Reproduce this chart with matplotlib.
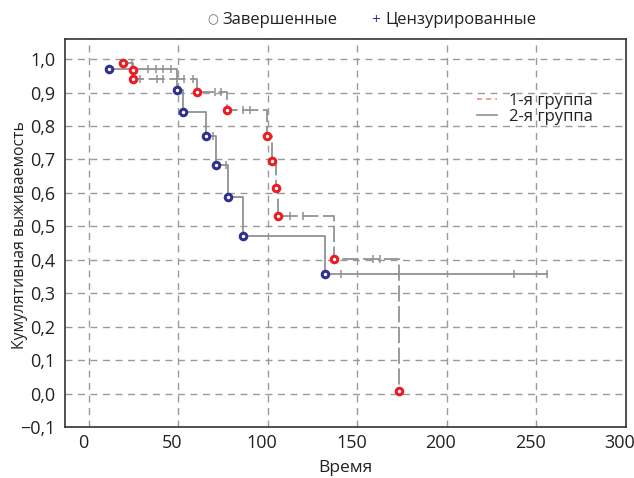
import matplotlib
matplotlib.use("Agg")
import matplotlib.pyplot as plt
from matplotlib.lines import Line2D
import matplotlib.transforms as mtransforms
import numpy as np

# ---- data ----
g1_event_t = [18.9, 24.9, 24.9, 60.3, 77.0, 99.7, 102.2, 104.6, 105.5, 137.0, 173.0]
g1_event_s = [0.989, 0.967, 0.939, 0.902, 0.847, 0.769, 0.695, 0.616, 0.531, 0.401, 0.008]
g1_cens_t = [24.0, 28.6, 37.9, 41.6, 53.4, 58.2, 70.5, 73.7, 86.3, 90.1, 112.4, 119.5, 158.6, 162.7]

g2_event_t = [11.5, 49.4, 52.5, 65.5, 71.0, 77.8, 86.0, 131.7]
g2_event_s = [0.969, 0.909, 0.841, 0.769, 0.684, 0.587, 0.471, 0.356]
g2_cens_t = [33.2, 37.4, 41.6, 45.8, 69.4, 76.6, 140.7, 237.2, 255.8]

x_ticks = [0, 50, 100, 150, 200, 250, 300]
y_ticks = [1.0, 0.9, 0.8, 0.7, 0.6, 0.5, 0.4, 0.3, 0.2, 0.1, 0.0, -0.1]

FONT = ["Open Sans", "DejaVu Sans"]
plt.rcParams["font.family"] = FONT

RED = "#ec1c24"
BLUE = "#2e3192"
LINE = "#929292"
GRID = "#9a9a9a"
TXT = "#222222"


def step_xy(times, surv, cens):
    xs = [times[0]]
    ys = [surv[0]]
    for i in range(1, len(times)):
        xs += [times[i], times[i]]
        ys += [surv[i - 1], surv[i]]
    last_c = max(cens) if cens else times[-1]
    if last_c > times[-1]:
        xs.append(last_c)
        ys.append(surv[-1])
    return xs, ys


def surv_at(times, surv, t):
    s = surv[0]
    for tt, ss in zip(times, surv):
        if tt <= t:
            s = ss
    return s


fig = plt.figure(figsize=(6.34, 4.78), dpi=100)
ax = fig.add_axes([65 / 634, 1 - 427 / 478, (626 - 65) / 634, (427 - 39) / 478])

ax.set_xlim(-13.3, 300)
ax.set_ylim(-0.1, 1.06)

ax.grid(True, color=GRID, linestyle=(0, (5, 4)), linewidth=1.0)
ax.set_axisbelow(True)

# group 1 (dashed)
x1, y1 = step_xy(g1_event_t, g1_event_s, g1_cens_t)
ax.plot(x1, y1, color=LINE, lw=1.3, linestyle=(0, (9, 2.5)), zorder=3)
c1_s = [surv_at(g1_event_t, g1_event_s, t) for t in g1_cens_t]
ax.plot(g1_cens_t, c1_s, linestyle="none", marker="|", ms=6, mew=1.1, color=LINE, zorder=3)

# group 2 (solid)
x2, y2 = step_xy(g2_event_t, g2_event_s, g2_cens_t)
ax.plot(x2, y2, color=LINE, lw=1.3, linestyle="-", zorder=3)
c2_s = [surv_at(g2_event_t, g2_event_s, t) for t in g2_cens_t]
ax.plot(g2_cens_t, c2_s, linestyle="none", marker="|", ms=6, mew=1.1, color=LINE, zorder=3)

# events
ax.plot(g1_event_t, g1_event_s, linestyle="none", marker="o", ms=4.7, mew=2.2,
        mec=RED, mfc="white", zorder=5)
ax.plot(g2_event_t, g2_event_s, linestyle="none", marker="o", ms=4.7, mew=2.2,
        mec=BLUE, mfc="white", zorder=5)

ax.set_xticks(x_ticks)
ax.set_xticklabels([str(v) for v in x_ticks])
ax.set_yticks(y_ticks)
ax.set_yticklabels([("\u2212" if v < 0 else "") + f"{abs(v):.1f}".replace(".", ",") for v in y_ticks])
ax.tick_params(length=0, labelsize=13, colors=TXT)
ax.tick_params(axis="y", pad=7)
ax.tick_params(axis="x", pad=5)

off = mtransforms.ScaledTranslation(-6 / 100, 0, fig.dpi_scale_trans)
for lab in ax.get_xticklabels():
    lab.set_transform(lab.get_transform() + off)

for sp in ax.spines.values():
    sp.set_color("#333333")
    sp.set_linewidth(1.2)

ax.set_xlabel("Время", fontsize=12.5, color=TXT)
ax.xaxis.set_label_coords(345 / 634, 1 - 468 / 478, transform=fig.transFigure)
ax.xaxis.label.set_va("center")
ax.set_ylabel("Кумулятивная выживаемость", fontsize=11.3, color=TXT)
ax.yaxis.set_label_coords(20 / 634, 1 - 235 / 478, transform=fig.transFigure)
ax.yaxis.label.set_va("center")

# group legend
handles = [Line2D([], [], color="#f08a8a", lw=1.2, linestyle=(0, (3, 2.5))),
           Line2D([], [], color=LINE, lw=1.2, linestyle="-")]
leg = ax.legend(handles, ["1-я группа", "2-я группа"], frameon=False,
                loc="upper left", bbox_to_anchor=(469 / 634, 1 - 84.5 / 478),
                bbox_transform=fig.transFigure, fontsize=12,
                handlelength=1.2, handletextpad=0.7, labelspacing=0.0,
                borderpad=0.0)
for t in leg.get_texts():
    t.set_color(TXT)

# top legend
fig.text(213 / 634, 1 - 20 / 478, "○", fontsize=9, color="#666666", ha="center", va="center")
fig.text(222 / 634, 1 - 20 / 478, "Завершенные", fontsize=12, color=TXT, ha="left", va="center")
fig.text(376 / 634, 1 - 20 / 478, "+", fontsize=11, color=BLUE, ha="center", va="center")
fig.text(385 / 634, 1 - 20 / 478, "Цензурированные", fontsize=12, color=TXT, ha="left", va="center")

fig.savefig("out.png", dpi=100)
